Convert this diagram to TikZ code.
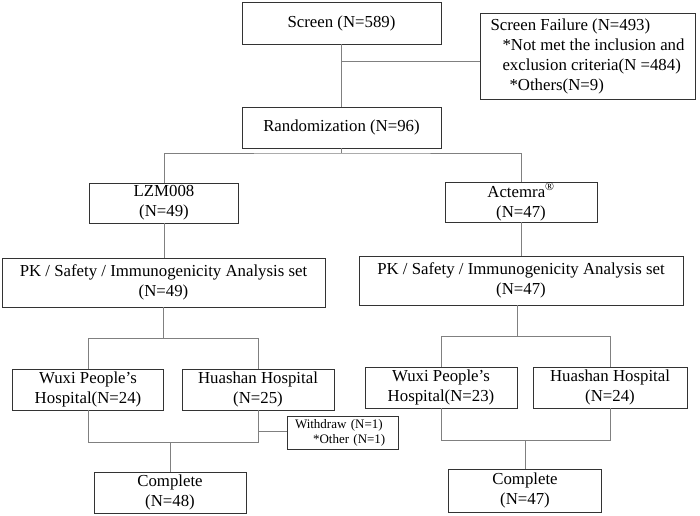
\documentclass[tikz,border=0pt]{standalone}
\usepackage{fontspec}
\setmainfont{Liberation Serif}
\begin{document}
\tikzset{
  box/.style={draw=black!80, line width=0.9pt, align=center, inner sep=0pt, font=\fontsize{16.8}{20}\selectfont},
  smallbox/.style={draw=black!80, line width=0.9pt, align=left, inner xsep=8pt, inner ysep=0pt, font=\fontsize{13}{15}\selectfont},
  conn/.style={draw=black!50, line width=0.8pt},
}
\begin{tikzpicture}[x=1pt,y=-1pt]
\useasboundingbox (0,0) rectangle (700,515);
% nodes
\node[box, minimum width=199pt, minimum height=42pt] (screen) at (341.5,23) {Screen (N=589)};
\node[box, minimum width=215pt, minimum height=86pt, inner xsep=8pt, align=left] (fail) at (587.5,56) {Screen Failure (N=493)\\\hspace*{12pt}*Not met the inclusion and\\\hspace*{12pt}exclusion criteria(N =484)\\\hspace*{19pt}*Others(N=9)};
\node[box, minimum width=199pt, minimum height=41pt] (rand) at (341.5,127.5) {Randomization (N=96)};
\node[box, minimum width=149pt, minimum height=40pt] (lzm) at (164,203) {LZM008\\(N=49)};
\node[box, minimum width=152pt, minimum height=40pt] (act) at (521,202) {Actemra\textsuperscript{®}\\(N=47)};
\node[box, minimum width=323pt, minimum height=49pt] (pkL) at (163.5,282.5) {PK / Safety / Immunogenicity Analysis set\\(N=49)};
\node[box, minimum width=324pt, minimum height=49pt] (pkR) at (521,280.5) {PK / Safety / Immunogenicity Analysis set\\(N=47)};
\node[box, minimum width=151pt, minimum height=41pt] (wuxiL) at (88,389.5) {Wuxi People’s\\Hospital(N=24)};
\node[box, minimum width=152pt, minimum height=41pt] (huaL) at (258,389.5) {Huashan Hospital\\(N=25)};
\node[box, minimum width=152pt, minimum height=41pt] (wuxiR) at (441,387.5) {Wuxi People’s\\Hospital(N=23)};
\node[box, minimum width=154pt, minimum height=41pt] (huaR) at (610,387.5) {Huashan Hospital\\(N=24)};
\node[smallbox, minimum width=111pt, minimum height=33pt, text width=95pt] (wd) at (342.5,432.5) {Withdraw (N=1)\\\hspace*{18pt}*Other (N=1)};
\node[box, minimum width=152pt, minimum height=41pt] (compL) at (170,492.5) {Complete\\(N=48)};
\node[box, minimum width=153pt, minimum height=43pt] (compR) at (525,490.5) {Complete\\(N=47)};
% connectors
\coordinate (b1) at (341.5,61);
\draw[conn] (screen.south) -- (rand.north);
\draw[conn] (b1) -- (b1 -| fail.west);
\coordinate (b2) at (341.5,153);
\draw[conn] (rand.south) -- (b2);
\draw[conn] (lzm.north) |- (b2) -| (act.north);
\draw[conn] (lzm.south) -- (lzm.south |- pkL.north);
\draw[conn] (act.south) -- (pkR.north);
\coordinate (b3) at (163.5,338);
\draw[conn] (pkL.south) -- (b3);
\draw[conn] (wuxiL.north) |- (b3) -| (huaL.north);
\coordinate (b4) at (517,336);
\draw[conn] (b4 |- pkR.south) -- (b4);
\draw[conn] (wuxiR.north) |- (b4) -| (huaR.north);
\coordinate (m1) at (170,442);
\draw[conn] (wuxiL.south) |- (m1) -| (huaL.south);
\draw[conn] (m1) -- (compL.north);
\coordinate (w1) at (258,431);
\draw[conn] (w1) -- (w1 -| wd.west);
\coordinate (m2) at (525,440);
\draw[conn] (wuxiR.south) |- (m2) -| (huaR.south);
\draw[conn] (m2) -- (compR.north);
\end{tikzpicture}
\end{document}
